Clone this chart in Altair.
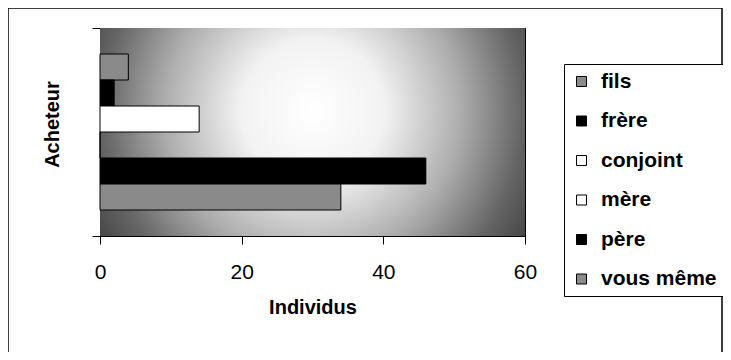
import altair as alt
import pandas as pd

# ---- data ----
buyers = ["fils", "frère", "conjoint", "mère", "père", "vous même"]
counts = [4, 2, 14, 0, 46, 34]
fills = ["#8a8a8a", "#000000", "#ffffff", "#ffffff", "#000000", "#8a8a8a"]
x_ticks = [0, 20, 40, 60]

bars_df = pd.DataFrame({"Acheteur": buyers, "Individus": counts})
bg_df = pd.DataFrame({"x0": [0], "x1": [60], "y0": [0], "y1": [1]})

FONT = "Liberation Sans"
W, H = 425, 208
PAD_L, PAD_T = 92, 20
PAD_R = 715 - PAD_L - W
PAD_B = 344 - PAD_T - H

x_scale = alt.Scale(domain=[0, 60], nice=False, zero=True)
x_axis = alt.Axis(
    values=x_ticks, grid=True, gridColor="#000000", gridOpacity=1, gridWidth=1,
    domainColor="#000000", tickColor="#000000", tickSize=8, labelFlush=False,
    labelFont=FONT, labelFontSize=21, labelColor="#000000", labelPadding=17,
    title="Individus", titleFont=FONT, titleFontSize=20, titleFontWeight="bold",
    titleColor="#000000", titlePadding=15,
)

gradient = alt.Gradient(
    gradient="radial",
    x1=0.5, y1=0.45, r1=0.0,
    x2=0.5, y2=0.45, r2=0.6,
    stops=[
        alt.GradientStop(offset=0.0, color="#ffffff"),
        alt.GradientStop(offset=0.28, color="#f2f2f2"),
        alt.GradientStop(offset=0.58, color="#adadad"),
        alt.GradientStop(offset=0.82, color="#666666"),
        alt.GradientStop(offset=1.0, color="#404040"),
    ],
)

background = alt.Chart(bg_df).mark_rect(fill=gradient).encode(
    x=alt.X("x0:Q", scale=x_scale, axis=x_axis),
    x2="x1:Q",
    y=alt.Y(
        "y0:Q",
        scale=alt.Scale(domain=[0, 1], nice=False),
        axis=alt.Axis(
            values=[0, 1], labels=False, grid=False, ticks=True, tickSize=8,
            tickColor="#000000", domainColor="#000000",
            title="Acheteur", titleFont=FONT, titleFontSize=20,
            titleFontWeight="bold", titleColor="#000000", titlePadding=29,
            titleY=96,
        ),
    ),
    y2="y1:Q",
)

bars = alt.Chart(bars_df).mark_bar(stroke="#000000", strokeWidth=1).encode(
    x=alt.X("Individus:Q", scale=x_scale, axis=x_axis),
    y=alt.Y(
        "Acheteur:N", sort=buyers,
        scale=alt.Scale(paddingInner=0, paddingOuter=1),
        axis=None,
    ),
    color=alt.Color(
        "Acheteur:N",
        sort=buyers,
        scale=alt.Scale(domain=buyers, range=fills),
        legend=alt.Legend(
            title=None, orient="none", legendX=464, legendY=36,
            symbolType="square", symbolSize=100, symbolStrokeColor="#000000",
            symbolStrokeWidth=1, symbolOpacity=1,
            labelFont=FONT, labelFontSize=21, labelFontWeight="bold",
            labelColor="#000000", labelOffset=9, labelLimit=300,
            rowPadding=17.5, padding=7,
            strokeColor="#000000", fillColor="#ffffff",
        ),
    ),
)

frame = alt.Chart(bg_df).mark_rect(
    fillOpacity=0, stroke="#000000", strokeWidth=1.5
).encode(
    x=alt.value(-92), x2=alt.value(622), y=alt.value(-20), y2=alt.value(340)
)

chart = (
    alt.layer(background, bars, frame)
    .resolve_scale(y="independent")
    .properties(
        width=W, height=H,
        autosize=alt.AutoSizeParams(type="none"),
        padding={"left": PAD_L, "top": PAD_T, "right": PAD_R, "bottom": PAD_B},
        background="#ffffff",
    )
    .configure_view(stroke="#000000", strokeWidth=1)
)

chart.save("out.html", embed_options={"renderer": "svg", "actions": False})
